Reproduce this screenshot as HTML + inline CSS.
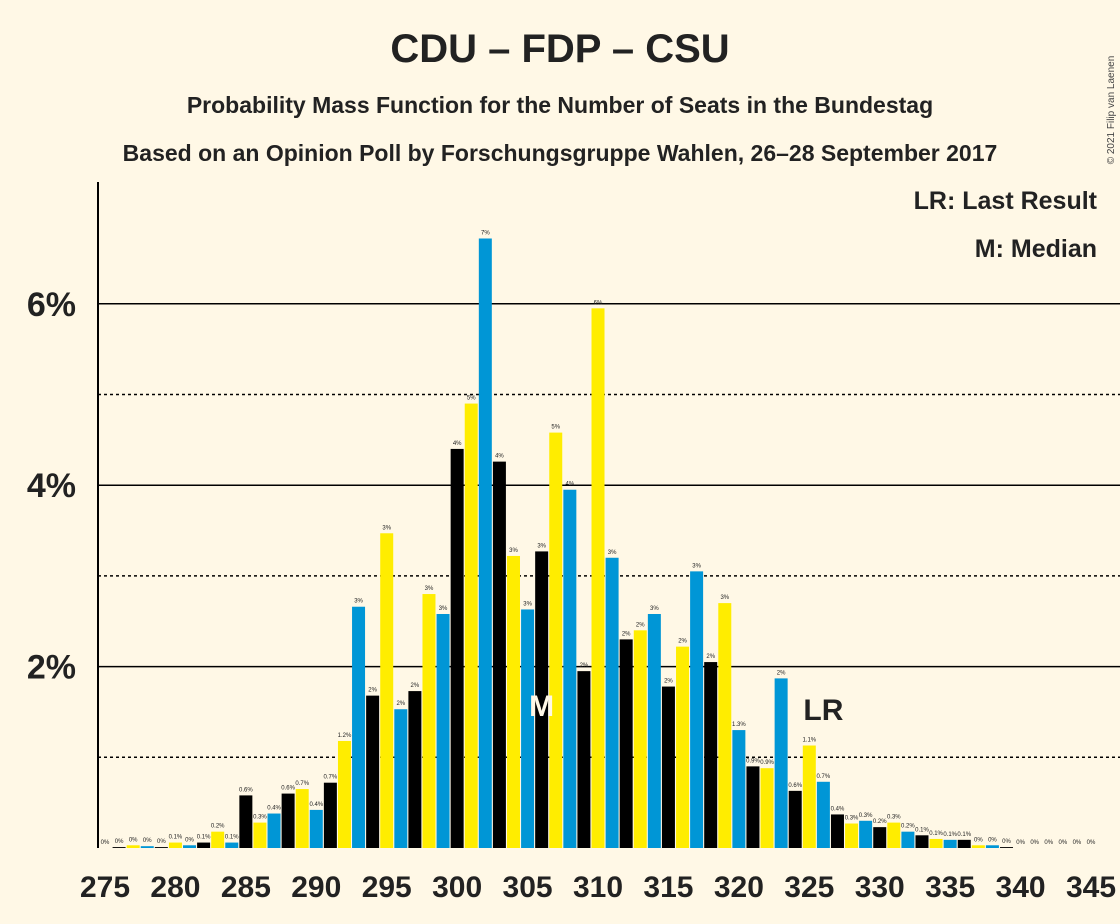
<!DOCTYPE html>
<html><head><meta charset="utf-8"><style>
body{margin:0;background:#fff8e6;}
svg{display:block;font-family:"Liberation Sans",sans-serif;}
</style></head><body>
<svg id="chart" width="1120" height="924" xmlns="http://www.w3.org/2000/svg">
<rect width="1120" height="924" fill="#fff8e6"/>
<text x="560" y="62" text-anchor="middle" font-size="40" font-weight="bold" fill="#222">CDU – FDP – CSU</text>
<text x="560" y="113" text-anchor="middle" font-size="23" font-weight="bold" fill="#222">Probability Mass Function for the Number of Seats in the Bundestag</text>
<text x="560" y="161" text-anchor="middle" font-size="23" font-weight="bold" fill="#222">Based on an Opinion Poll by Forschungsgruppe Wahlen, 26–28 September 2017</text>
<text x="1114" y="110" font-size="10" fill="#444" transform="rotate(-90 1114 110)" text-anchor="middle">© 2021 Filip van Laenen</text>
<text x="1097" y="209" text-anchor="end" font-size="25" font-weight="bold" fill="#222">LR: Last Result</text>
<text x="1097" y="257" text-anchor="end" font-size="25" font-weight="bold" fill="#222">M: Median</text>
<g id="grid"></g><g id="bars"></g><g id="axes"></g>
</svg>
<script>
const seats=[275,276,277,278,279,280,281,282,283,284,285,286,287,288,289,290,291,292,293,294,295,296,297,298,299,300,301,302,303,304,305,306,307,308,309,310,311,312,313,314,315,316,317,318,319,320,321,322,323,324,325,326,327,328,329,330,331,332,333,334,335,336,337,338,339,340,341,342,343,344,345];
const probs=[0,0.01,0.03,0.02,0.01,0.06,0.03,0.06,0.18,0.06,0.58,0.28,0.38,0.6,0.65,0.42,0.72,1.18,2.66,1.68,3.47,1.53,1.73,2.8,2.58,4.4,4.9,6.72,4.26,3.22,2.63,3.27,4.58,3.95,1.95,5.95,3.2,2.3,2.4,2.58,1.78,2.22,3.05,2.05,2.7,1.3,0.9,0.88,1.87,0.63,1.13,0.73,0.37,0.27,0.3,0.23,0.28,0.18,0.14,0.1,0.09,0.09,0.03,0.03,0.01,0,0,0,0,0,0];
const yTicks=[2,4,6];
const yMinor=[1,3,5];
const xTicks=[275,280,285,290,295,300,305,310,315,320,325,330,335,340,345];
const medianSeat=306, lastResultSeat=326;
const NS="http://www.w3.org/2000/svg";
const x=s=>105+(s-275)*14.086;
const y=p=>848-p*90.7;
function mk(tag,attrs,parent,txt){const e=document.createElementNS(NS,tag);for(const k in attrs)e.setAttribute(k,attrs[k]);if(txt!==undefined)e.textContent=txt;parent.appendChild(e);return e;}
const grid=document.getElementById('grid'),bars=document.getElementById('bars'),axes=document.getElementById('axes');
yMinor.forEach(v=>{const l=mk('line',{x1:98,x2:1120,y1:y(v),y2:y(v),stroke:'#000','stroke-width':1.5,'stroke-dasharray':'3,3'},grid);

});
yTicks.forEach(v=>{const l=mk('line',{x1:98,x2:1120,y1:y(v),y2:y(v),stroke:'#000','stroke-width':1.5},grid);


const t=mk('text',{x:76,y:y(v)+12,'text-anchor':'end','font-size':34,'font-weight':'bold',fill:'#222'},axes,v+'%');

});
const cols=['#000000','#ffed00','#0096d6'];
seats.forEach((s,i)=>{const p=probs[i];const c=cols[((s-300)%3+3)%3];
const r=mk('rect',{x:x(s)-6.5,y:y(p),width:13,height:p*90.7,fill:c},bars);


const lab=p<0.05?'0%':(p<1.5?(p.toFixed(1)+'%'):(Math.round(p)+'%'));
const t=mk('text',{x:x(s),y:y(p)-4,'text-anchor':'middle','font-size':6,fill:'#222'},bars,lab);

});
xTicks.forEach(s=>{const t=mk('text',{x:x(s),y:897,'text-anchor':'middle','font-size':30,'font-weight':'bold',fill:'#222'},axes,s);

});
const ax=mk('line',{x1:98,x2:98,y1:182,y2:848,stroke:'#000','stroke-width':2},axes);


const m=mk('text',{x:x(medianSeat),y:716,'text-anchor':'middle','font-size':30,'font-weight':'bold',fill:'#fff8e6'},axes,'M');


const lr=mk('text',{x:x(lastResultSeat),y:720,'text-anchor':'middle','font-size':30,'font-weight':'bold',fill:'#222'},axes,'LR');


</script>
</body></html>
